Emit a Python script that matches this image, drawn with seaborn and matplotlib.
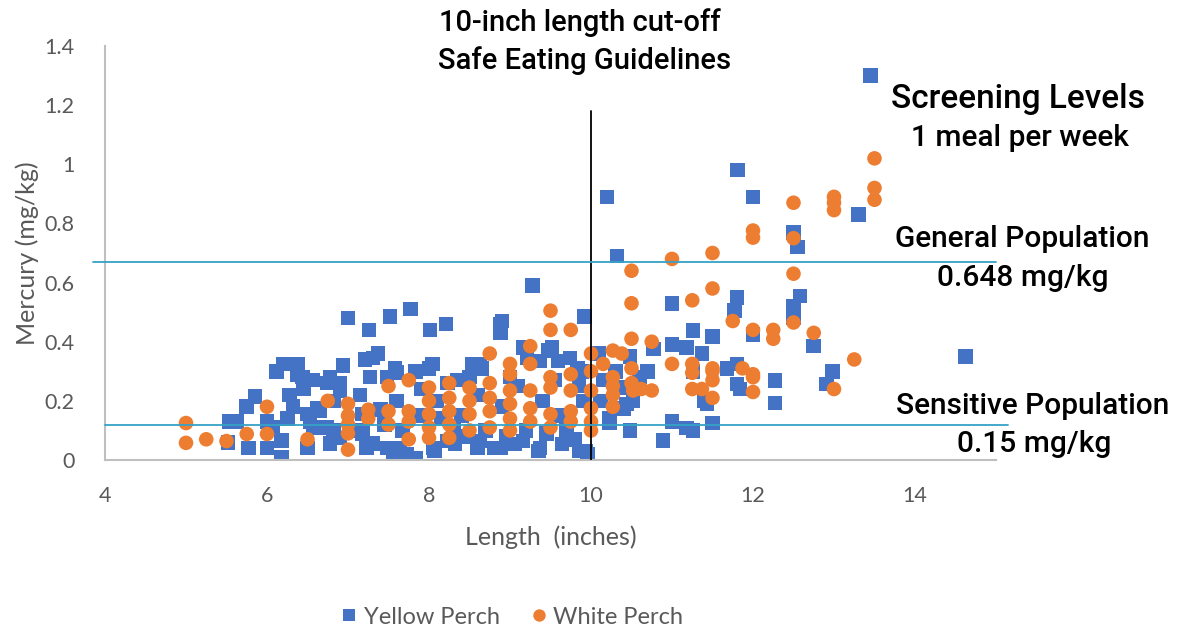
import pandas as pd
import matplotlib.pyplot as plt
import seaborn as sns

# Yellow Perch: length (inches), mercury (mg/kg)
yellow_len = [13.45, 10.2, 11.81, 12.0, 13.3, 12.5, 12.55, 10.32, 9.28, 11.0, 11.8, 11.77, 12.58, 12.5, 12.5,
              9.92, 11.26, 11.5, 12.0, 12.75, 11.0, 11.18, 11.37, 10.77, 12.27, 12.27, 12.98, 12.91, 11.8, 11.84,
              11.68, 11.8, 11.26, 11.43, 11.5, 11.0, 11.18, 11.26, 10.89, 10.48, 10.23, 10.44, 10.1, 10.48, 10.36,
              10.4, 10.52, 9.93, 14.62, 7.0, 7.26, 7.52, 7.77, 8.01, 8.21, 8.88, 8.88, 7.37, 7.21, 6.94,
              6.2, 6.38, 6.38, 6.57, 6.78, 7.27, 5.85, 5.75, 5.63, 5.52, 5.77, 6.28, 6.32, 6.25, 6.0,
              6.07, 6.18, 6.0, 6.18, 6.5, 6.62, 6.57, 6.5, 6.74, 6.78, 6.9, 6.82, 7.15, 7.18, 7.18,
              7.31, 7.48, 7.6, 9.52, 8.0, 8.35, 8.54, 8.63, 9.16, 9.21, 9.37, 9.74, 9.83, 7.73, 7.64,
              8.05, 8.22, 8.63, 8.88, 9.37, 9.86, 9.16, 6.44, 6.74, 6.9, 7.31, 7.15, 7.23, 7.48, 7.56,
              6.82, 6.9, 6.53, 6.65, 7.58, 7.83, 8.04, 8.23, 8.65, 8.9, 9.47, 9.59, 9.89, 7.67, 7.83,
              8.07, 8.32, 8.6, 8.81, 9.06, 9.35, 9.64, 9.96, 10.48, 10.23, 11.4, 8.1, 8.4, 8.6, 8.9,
              9.1, 9.4, 9.6, 9.9, 8.3, 8.7, 9.2, 9.7, 7.6, 7.9, 8.5, 9.0, 9.55, 9.85, 7.4,
              7.45, 7.9, 8.15, 8.45, 8.95, 9.45, 9.8, 10.15, 10.3, 10.12, 10.6, 10.7, 6.12, 6.45, 5.54]
yellow_hg = [1.30, 0.89, 0.98, 0.89, 0.83, 0.77, 0.72, 0.69, 0.59, 0.53, 0.55, 0.505, 0.555, 0.52, 0.48,
             0.485, 0.437, 0.417, 0.425, 0.386, 0.39, 0.38, 0.36, 0.376, 0.268, 0.193, 0.30, 0.257, 0.257, 0.24,
             0.31, 0.325, 0.30, 0.19, 0.125, 0.13, 0.108, 0.10, 0.066, 0.098, 0.14, 0.19, 0.36, 0.35, 0.245,
             0.175, 0.20, 0.03, 0.35, 0.48, 0.44, 0.485, 0.51, 0.44, 0.46, 0.46, 0.43, 0.36, 0.34, 0.32,
             0.325, 0.325, 0.29, 0.27, 0.28, 0.28, 0.215, 0.18, 0.13, 0.06, 0.04, 0.22, 0.18, 0.14, 0.13,
             0.11, 0.01, 0.04, 0.065, 0.155, 0.175, 0.11, 0.04, 0.11, 0.055, 0.235, 0.20, 0.22, 0.155, 0.09,
             0.055, 0.28, 0.295, 0.38, 0.31, 0.27, 0.325, 0.325, 0.38, 0.345, 0.335, 0.345, 0.31, 0.02, 0.04,
             0.04, 0.064, 0.064, 0.04, 0.04, 0.03, 0.064, 0.28, 0.26, 0.26, 0.345, 0.10, 0.04, 0.04, 0.02,
             0.10, 0.075, 0.13, 0.165, 0.31, 0.30, 0.325, 0.26, 0.31, 0.47, 0.37, 0.335, 0.30, 0.10, 0.007,
             0.03, 0.054, 0.04, 0.04, 0.054, 0.03, 0.054, 0.02, 0.10, 0.125, 0.20, 0.20, 0.15, 0.22, 0.18,
             0.25, 0.20, 0.15, 0.20, 0.10, 0.10, 0.10, 0.10, 0.20, 0.15, 0.28, 0.28, 0.27, 0.25, 0.17,
             0.12, 0.24, 0.14, 0.08, 0.08, 0.09, 0.07, 0.27, 0.30, 0.20, 0.28, 0.30, 0.30, 0.24, 0.13]

# White Perch: length (inches), mercury (mg/kg)
white_len = [13.5, 13.5, 13.5, 13.0, 13.0, 13.0, 12.5, 12.0, 12.0, 12.5, 11.5, 11.0, 10.5, 12.5, 11.5,
             10.5, 11.25, 11.75, 12.5, 12.0, 12.25, 12.25, 12.75, 13.25, 10.5, 10.75, 10.27, 10.38, 10.0, 11.0,
             11.25, 11.25, 11.5, 11.5, 11.87, 12.0, 10.5, 10.27, 10.27, 10.27, 10.27, 10.5, 10.62, 10.75, 11.25,
             11.37, 12.0, 13.0, 11.5, 10.0, 10.0, 10.0, 10.0, 10.0, 10.15, 5.0, 5.0, 5.25, 5.5, 5.75,
             6.0, 6.0, 6.5, 6.75, 7.0, 7.0, 7.0, 7.0, 7.0, 7.25, 7.25, 7.5, 7.5, 7.5, 7.75,
             7.75, 7.75, 7.75, 8.0, 8.0, 8.0, 8.0, 8.0, 8.25, 8.25, 8.25, 8.25, 8.25, 8.5, 8.5,
             8.5, 8.5, 8.75, 8.75, 8.75, 8.75, 8.75, 9.0, 9.0, 9.0, 9.0, 9.0, 9.0, 9.25, 9.25,
             9.25, 9.25, 9.25, 9.5, 9.5, 9.5, 9.5, 9.5, 9.5, 9.75, 9.75, 9.75, 9.75, 9.75, 12.0,
             10.52, 11.5]
white_hg = [1.02, 0.92, 0.88, 0.89, 0.87, 0.845, 0.87, 0.776, 0.752, 0.75, 0.70, 0.68, 0.64, 0.63, 0.58,
            0.53, 0.54, 0.47, 0.465, 0.44, 0.44, 0.41, 0.43, 0.34, 0.41, 0.40, 0.37, 0.36, 0.36, 0.325,
            0.325, 0.295, 0.31, 0.27, 0.31, 0.28, 0.31, 0.28, 0.25, 0.22, 0.18, 0.26, 0.24, 0.235, 0.24,
            0.24, 0.23, 0.24, 0.21, 0.30, 0.235, 0.175, 0.13, 0.10, 0.325, 0.125, 0.058, 0.07, 0.064, 0.088,
            0.18, 0.088, 0.07, 0.20, 0.19, 0.15, 0.12, 0.09, 0.035, 0.17, 0.14, 0.25, 0.165, 0.12, 0.27,
            0.165, 0.13, 0.07, 0.245, 0.20, 0.155, 0.11, 0.075, 0.26, 0.21, 0.165, 0.12, 0.075, 0.245, 0.20,
            0.155, 0.10, 0.36, 0.26, 0.21, 0.165, 0.11, 0.325, 0.29, 0.235, 0.19, 0.14, 0.10, 0.385, 0.325,
            0.235, 0.175, 0.13, 0.505, 0.44, 0.28, 0.245, 0.155, 0.11, 0.44, 0.29, 0.235, 0.165, 0.13, 0.29,
            0.235, 0.30]

species = ['Yellow Perch', 'White Perch']
colors = {'Yellow Perch': '#4472C4', 'White Perch': '#ED7D31'}
markers = {'Yellow Perch': 's', 'White Perch': 'o'}

cutoff_len = 10
cutoff_top = 1.18
general_line = 0.668
sensitive_line = 0.12

df = pd.concat([
    pd.DataFrame({'Length': yellow_len, 'Mercury': yellow_hg, 'Species': 'Yellow Perch'}),
    pd.DataFrame({'Length': white_len, 'Mercury': white_hg, 'Species': 'White Perch'}),
], ignore_index=True)

sns.set_theme(style='white')
plt.rcParams['font.family'] = ['Lato', 'DejaVu Sans']
grey = '#595959'
note_font = ['Roboto', 'DejaVu Sans']

fig = plt.figure(figsize=(11.79, 6.30), dpi=100)
ax = fig.add_axes([105 / 1179, 1 - 460 / 630, 891 / 1179, 414 / 630])

sns.scatterplot(data=df, x='Length', y='Mercury', hue='Species', style='Species',
                palette=colors, markers=markers, hue_order=species, style_order=species,
                s=110, linewidth=0, alpha=1, ax=ax, legend=True)

ax.set_xlim(4, 15)
ax.set_ylim(0, 1.4)
ax.set_xticks([4, 6, 8, 10, 12, 14])
ax.set_yticks([0, 0.2, 0.4, 0.6, 0.8, 1.0, 1.2, 1.4])
ax.set_yticklabels(['0', '0.2', '0.4', '0.6', '0.8', '1', '1.2', '1.4'])
ax.tick_params(axis='both', length=0, labelsize=15.5, labelcolor=grey)
ax.tick_params(axis='y', pad=22)
ax.tick_params(axis='x', pad=19)
for side in ['top', 'right']:
    ax.spines[side].set_visible(False)
for side in ['left', 'bottom']:
    ax.spines[side].set_color('#BFBFBF')
    ax.spines[side].set_linewidth(1.5)

ax.set_xlabel('Length  (inches)', fontsize=18, color=grey, labelpad=14)
ax.set_ylabel('Mercury (mg/kg)', fontsize=18, color=grey, labelpad=4)

# guideline lines
ax.plot([cutoff_len, cutoff_len], [0, cutoff_top], color='black', lw=1.3, zorder=5)
ax.axhline(general_line, xmin=-0.014, xmax=1.0, color='#35A2C6', lw=1.3, clip_on=False, zorder=5)
ax.axhline(sensitive_line, xmin=0.0, xmax=1.013, color='#35A2C6', lw=1.3, clip_on=False, zorder=5)

notes = [
    ('10-inch length cut-off', 580, 23, 21),
    ('Safe Eating Guidelines', 585, 61, 21),
    ('Screening Levels', 1018, 99, 24),
    ('1 meal per week', 1020, 138, 21.5),
    ('General Population', 1022, 239, 21.5),
    ('0.648 mg/kg', 1023, 278, 21.5),
    ('Sensitive Population', 1033, 406, 21.5),
    ('0.15 mg/kg', 1034, 444, 21.5),
]
for text, px, py, size in notes:
    fig.text(px / 1179, 1 - py / 630, text, ha='center', va='center', fontsize=size,
             color='black', family=note_font, weight='medium')

handles, labels = ax.get_legend_handles_labels()
ax.get_legend().remove()
fig.legend(handles, labels, loc='center', bbox_to_anchor=(512 / 1179, 1 - 617 / 630), ncol=2,
           frameon=False, fontsize=17, labelcolor=grey, handlelength=0.7, handletextpad=0.25,
           columnspacing=1.3, markerscale=0.85)

fig.savefig('out.png', dpi=100)
